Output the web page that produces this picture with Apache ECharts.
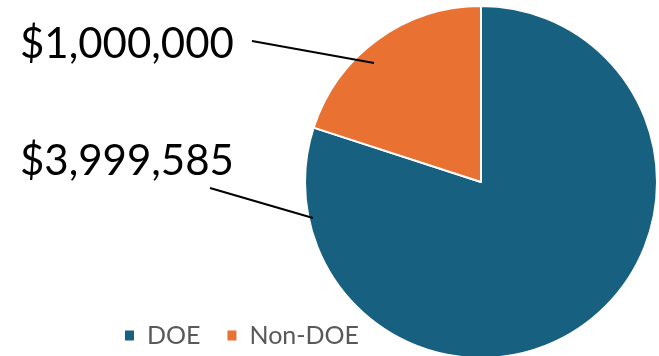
<!DOCTYPE html>
<html><head><meta charset="utf-8">
<script src="https://cdn.jsdelivr.net/npm/echarts@6/dist/echarts.min.js"></script>
<style>html,body{margin:0;padding:0;background:#fff}#c{width:659px;height:356px}</style>
</head><body><div id="c"></div>
<script>
const categories = ['DOE', 'Non-DOE'];
const values = [3999585, 1000000];
const colors = ['#17607F', '#E97132'];

// label placement (text anchors and leader lines), indexed like categories
const labelAnchors = [
  { x: 20, y: 161, line: [[313, 218], [261.5, 203], [210, 188]] },
  { x: 20, y: 44, line: [[374, 63], [313, 52], [252, 41]] }
];

const pieData = categories.map((c, i) => ({ name: c, value: values[i] }));
const common = { type: 'pie', center: [481, 182], radius: 176, startAngle: 90, clockwise: true, avoidLabelOverlap: false };

const chart = echarts.init(document.getElementById('c'), null, { renderer: 'canvas' });
chart.setOption({
  animation: false,
  color: colors,
  legend: {
    left: 118, top: 318,
    itemWidth: 11, itemHeight: 12, itemGap: 25,
    icon: 'rect',
    data: categories,
    textStyle: { fontFamily: 'Lato', fontSize: 25, color: '#595959', padding: [0, 0, 0, 7] }
  },
  series: [
    Object.assign({}, common, {
      name: 'slices', z: 2,
      itemStyle: { borderColor: '#fff', borderWidth: 2 },
      label: { show: false },
      labelLine: { show: false },
      data: pieData
    }),
    Object.assign({}, common, {
      name: 'labels', z: 5, silent: true,
      itemStyle: { color: 'rgba(0,0,0,0)', borderWidth: 0 },
      label: {
        show: true,
        position: 'outside',
        overflow: 'none',
        fontFamily: 'Lato',
        fontSize: 42,
        color: '#000',
        formatter: p => '$' + p.value.toLocaleString('en-US')
      },
      labelLine: { show: true, length: 10, length2: 10, lineStyle: { color: '#000', width: 2 } },
      labelLayout: function (p) {
        const a = labelAnchors[p.dataIndex];
        return { x: a.x, y: a.y, align: 'left', verticalAlign: 'middle', hideOverlap: false, labelLinePoints: a.line };
      },
      data: pieData
    })
  ]
});
</script></body></html>
